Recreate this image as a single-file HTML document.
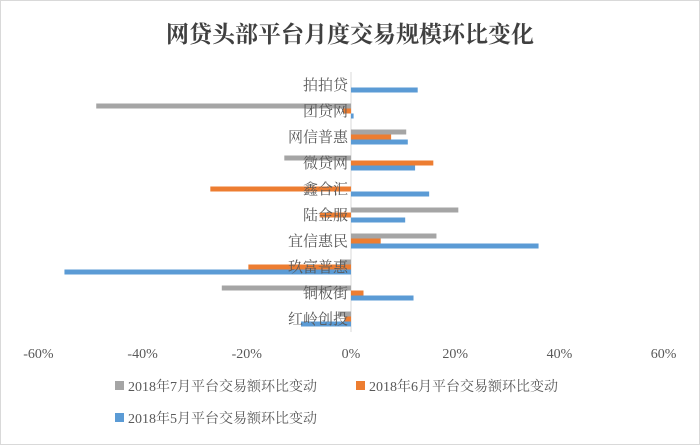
<!DOCTYPE html>
<html><head><meta charset="utf-8"><style>
body{margin:0;background:#fff;}
#wrap{position:relative;width:700px;height:445px;overflow:hidden;background:#fff;}
svg text{font-family:"Liberation Serif","Noto Serif CJK SC",serif;}
</style></head><body>
<div id="wrap">
<svg id="chart" width="700" height="445" xmlns="http://www.w3.org/2000/svg">
<rect x="0.5" y="0.5" width="699" height="444" fill="#fff" stroke="#d9d9d9"/>
<text x="350" y="42" text-anchor="middle" font-size="23" font-weight="bold" fill="#404040">网贷头部平台月度交易规模环比变化</text>
<g id="bars"></g>
<g id="labels"></g>
<g id="ticks"></g>
<g id="legend">
<rect x="115" y="381" width="9" height="9" fill="#A5A5A5"/>
<text x="128" y="391" font-size="14" fill="#595959">2018年7月平台交易额环比变动</text>
<rect x="356" y="381" width="9" height="9" fill="#ED7D31"/>
<text x="369" y="391" font-size="14" fill="#595959">2018年6月平台交易额环比变动</text>
<rect x="115" y="413" width="9" height="9" fill="#5B9BD5"/>
<text x="128" y="423" font-size="14" fill="#595959">2018年5月平台交易额环比变动</text>
</g>
</svg>
</div>
<script>
const categories=["拍拍贷","团贷网","网信普惠","微贷网","鑫合汇","陆金服","宜信惠民","玖富普惠","铜板街","红岭创投"];
const julValues=[0,-48.9,10.6,-12.8,0,20.6,16.4,-2.1,-24.8,-2.5];
const junValues=[0,-1.5,7.7,15.8,-27,-6,5.7,-19.7,2.4,-1.2];
const mayValues=[12.8,0.5,10.9,12.3,15,10.4,36,-55,12,-9.6];
const tickValues=[-60,-40,-20,0,20,40,60];
const tickLabels=["-60%","-40%","-20%","0%","20%","40%","60%"];

const NS="http://www.w3.org/2000/svg";
const x0=351, pxPer=5.21, plotTop=72, band=26, barH=5;
function xs(v){return x0+v*pxPer;}
function ys(i){return plotTop+i*band;}
const bars=document.getElementById('bars');
const series=[{vals:julValues,color:"#A5A5A5",key:"jul"},{vals:junValues,color:"#ED7D31",key:"jun"},{vals:mayValues,color:"#5B9BD5",key:"may"}];
const axis=document.createElementNS(NS,'line');
axis.setAttribute('x1',xs(0));axis.setAttribute('x2',xs(0));
axis.setAttribute('y1',plotTop);axis.setAttribute('y2',plotTop+band*categories.length);
axis.setAttribute('stroke','#d9d9d9');axis.setAttribute('stroke-width','1');


bars.appendChild(axis);
series.forEach((s,si)=>{
  s.vals.forEach((v,i)=>{
    if(v===0)return;
    const r=document.createElementNS(NS,'rect');
    const a=xs(0), b=xs(v);
    r.setAttribute('x',Math.min(a,b));
    r.setAttribute('width',Math.abs(b-a));
    r.setAttribute('y',ys(i)+5.5+si*barH);
    r.setAttribute('height',barH);
    r.setAttribute('fill',s.color);
    
    
    bars.appendChild(r);
  });
});
const labels=document.getElementById('labels');
categories.forEach((c,i)=>{
  const t=document.createElementNS(NS,'text');
  t.setAttribute('x',348);t.setAttribute('y',ys(i)+18);
  t.setAttribute('text-anchor','end');t.setAttribute('font-size','15');t.setAttribute('fill','#595959');
  t.textContent=c;
  
  
  labels.appendChild(t);
});
const ticks=document.getElementById('ticks');
tickValues.forEach((v,i)=>{
  const t=document.createElementNS(NS,'text');
  t.setAttribute('x',xs(v));t.setAttribute('y',358);
  t.setAttribute('text-anchor','middle');t.setAttribute('font-size','14');t.setAttribute('fill','#595959');
  t.textContent=tickLabels[i];
  
  
  ticks.appendChild(t);
});
</script>
</body></html>
